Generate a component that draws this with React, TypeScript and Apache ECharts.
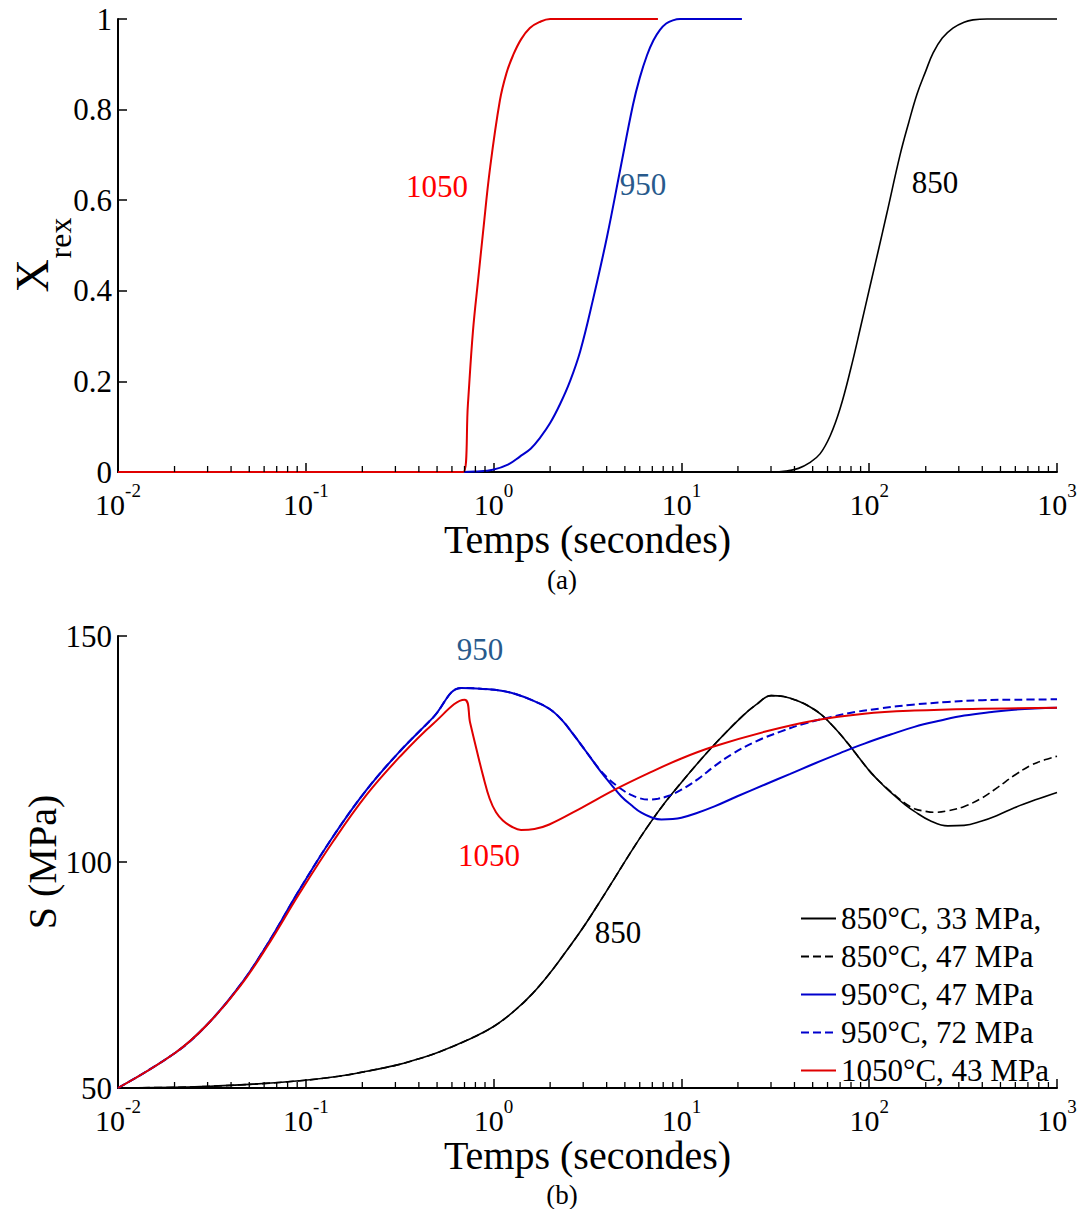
import React, { useEffect, useRef } from 'react';
import * as echarts from 'echarts';

const FONT = 'Liberation Serif';

// ---------- (a) Xrex vs time ----------
const xrexTime1050 = [0.01, 0.69, 0.73, 0.776, 0.83, 0.879, 0.957, 1.08, 1.17, 1.27, 1.4, 1.56, 1.75, 2.0, 7.5];
const xrex1050 = [0, 0, 0.15, 0.31, 0.43, 0.53, 0.67, 0.82, 0.88, 0.92, 0.955, 0.98, 0.993, 1, 1];

const xrexTime950 = [0.01, 0.69, 0.8, 0.99, 1.2, 1.38, 1.58, 1.77, 2.0, 2.26, 2.55, 2.89, 3.38, 4.02, 4.71, 5.52, 6.0, 6.56, 7.1, 7.69, 8.3, 9.0, 9.84, 21];
const xrex950 = [0, 0, 0.001, 0.005, 0.017, 0.034, 0.052, 0.076, 0.108, 0.15, 0.2, 0.266, 0.38, 0.52, 0.665, 0.81, 0.87, 0.92, 0.953, 0.976, 0.99, 0.997, 1, 1];

const xrexTime850 = [0.01, 30.4, 36, 42, 48, 54.7, 62, 70, 80, 90, 101, 112, 124, 146, 162, 180, 200, 219, 245, 279, 320, 357, 424, 1000];
const xrex850 = [0, 0, 0.002, 0.008, 0.02, 0.04, 0.08, 0.14, 0.23, 0.32, 0.41, 0.49, 0.57, 0.7, 0.77, 0.835, 0.885, 0.925, 0.958, 0.98, 0.993, 0.998, 1, 1];

// ---------- (b) S vs time ----------
const sTime850a = [0.01, 0.02, 0.0275, 0.05, 0.093, 0.15, 0.211, 0.3, 0.388, 0.5, 0.716, 1.0, 1.3, 1.62, 2.0, 2.43, 2.94, 3.6, 4.42, 5.4, 6.65, 8.2, 10, 12.3, 15, 20.8, 25, 30.1, 35, 41.8, 48, 55.6, 65, 77.1, 90, 103, 120, 137, 155, 174, 210, 262, 320, 394, 480, 593, 760, 1000];
const s850a = [50, 50.15, 50.3, 50.8, 51.6, 52.6, 53.7, 55.0, 56.3, 57.8, 60.5, 63.6, 67.2, 71.0, 75.5, 80.2, 85.0, 90.6, 96.5, 102.3, 108.0, 113.2, 117.6, 122.0, 126.0, 132.0, 134.8, 136.8, 136.6, 135.6, 134.4, 132.6, 129.8, 126.2, 122.6, 119.6, 116.8, 114.6, 112.7, 111.2, 109.2, 108.0, 108.1, 109.0, 110.3, 112.0, 113.7, 115.4];

const sTime850b = [0.01, 0.02, 0.0275, 0.05, 0.093, 0.15, 0.211, 0.3, 0.388, 0.5, 0.716, 1.0, 1.3, 1.62, 2.0, 2.43, 2.94, 3.6, 4.42, 5.4, 6.65, 8.2, 10, 12.3, 15, 20.8, 25, 30.1, 35, 41.8, 48, 55.6, 65, 77.1, 90, 103, 120, 137, 155, 174, 200, 223, 260, 321, 400, 483, 600, 727, 860, 1000];
const s850b = [50, 50.15, 50.3, 50.8, 51.6, 52.6, 53.7, 55.0, 56.3, 57.8, 60.5, 63.6, 67.2, 71.0, 75.5, 80.2, 85.0, 90.6, 96.5, 102.3, 108.0, 113.2, 117.6, 122.0, 126.0, 132.0, 134.8, 136.8, 136.6, 135.6, 134.4, 132.6, 129.8, 126.2, 122.6, 119.6, 116.9, 114.8, 113.0, 111.8, 111.2, 111.0, 111.3, 112.3, 114.2, 116.5, 119.3, 121.4, 122.6, 123.4];

const sTime950a = [0.01, 0.0202, 0.0298, 0.0448, 0.062, 0.093, 0.14, 0.211, 0.317, 0.477, 0.673, 0.877, 1.1, 1.32, 1.6, 1.98, 2.3, 2.64, 3.1, 3.66, 4.2, 4.79, 5.4, 6.12, 7.0, 7.83, 9.0, 10, 12, 15, 20, 27.7, 38, 51.2, 70, 94.4, 130, 174, 240, 321, 450, 593, 1000];
const s950a = [50, 57.8, 64.0, 72.8, 81.6, 94.0, 105.7, 116.0, 124.5, 132.0, 138.5, 138.3, 137.9, 137.1, 135.8, 133.9, 131.5, 128.4, 124.5, 120.4, 117.3, 114.5, 112.6, 110.9, 109.8, 109.4, 109.5, 109.8, 110.8, 112.3, 114.6, 117.1, 119.5, 121.8, 124.1, 126.2, 128.2, 129.9, 131.3, 132.4, 133.2, 133.7, 134.1];

const sTime950b = [0.01, 0.0202, 0.0298, 0.0448, 0.062, 0.093, 0.14, 0.211, 0.317, 0.477, 0.673, 0.877, 1.1, 1.32, 1.6, 1.98, 2.3, 2.64, 3.1, 3.66, 4.0, 4.42, 5.0, 5.42, 6.0, 6.65, 7.5, 8.5, 10, 12.3, 15, 18.5, 25, 34, 45, 62.8, 85, 116, 170, 262, 400, 593, 1000];
const s950b = [50, 57.8, 64.0, 72.8, 81.6, 94.0, 105.7, 116.0, 124.5, 132.0, 138.5, 138.3, 137.9, 137.1, 135.8, 133.9, 131.5, 128.4, 124.5, 120.5, 118.8, 117.2, 115.6, 114.8, 114.1, 113.8, 114.0, 114.6, 116.0, 118.4, 121.2, 123.8, 126.7, 128.9, 130.6, 132.1, 133.2, 134.0, 134.8, 135.4, 135.8, 135.9, 136.0];

const sTime1050 = [0.01, 0.0202, 0.0298, 0.0448, 0.062, 0.093, 0.14, 0.211, 0.317, 0.477, 0.70, 0.75, 0.81, 0.88, 0.953, 1.03, 1.12, 1.25, 1.40, 1.65, 1.98, 2.94, 4.42, 6.65, 10, 15, 27.7, 51.2, 94, 174, 394, 1000];
const s1050 = [50, 57.8, 64.0, 72.6, 81.2, 93.2, 104.6, 114.9, 123.3, 130.6, 135.9, 130.8, 125.0, 119.0, 114.0, 111.0, 109.2, 107.8, 107.1, 107.3, 108.3, 112.0, 116.0, 119.6, 122.9, 125.6, 128.8, 131.3, 132.8, 133.5, 133.9, 134.1];

const legendNames = ['850°C, 33 MPa,', '850°C, 47 MPa', '950°C, 47 MPa', '950°C, 72 MPa', '1050°C, 43 MPa'];

const xTicksDecades = [-2, -1, 0, 1, 2, 3];

const RED = '#e00000';
const BLUE = '#0000cd';
const LABEL_BLUE = '#285a8c';

function zip(t: number[], v: number[]) {
  return t.map((x, i) => [x, v[i]]);
}

const minorTicks: number[] = [];
for (let i = 0; i < xTicksDecades.length - 1; i++) {
  for (let m = 2; m < 10; m++) minorTicks.push(m * Math.pow(10, xTicksDecades[i]));
}

function makeXAxis(gridIndex: number) {
  return {
    type: 'log',
    logBase: 10,
    gridIndex,
    min: 0.01,
    max: 1000,
    axisLine: { show: true, onZero: false, lineStyle: { color: '#000', width: 2 } },
    axisTick: { show: true, inside: true, length: 9, lineStyle: { color: '#000', width: 1.5 } },
    splitLine: { show: false },
    minorTick: { show: false },
    axisLabel: {
      margin: 9,
      color: '#000',
      fontFamily: FONT,
      formatter: (v: number) => `{b|10}{s|${Math.round(Math.log10(v))}}`,
      rich: {
        b: { fontFamily: FONT, fontSize: 30, color: '#000', lineHeight: 38, verticalAlign: 'bottom' },
        s: { fontFamily: FONT, fontSize: 19, color: '#000', lineHeight: 20, verticalAlign: 'top' },
      },
    },
    name: 'Temps (secondes)',
    nameLocation: 'middle',
    nameGap: 41,
    nameTextStyle: { fontFamily: FONT, fontSize: 40, color: '#000' },
  };
}

function makeYAxis(gridIndex: number, min: number, max: number, interval: number) {
  return {
    type: 'value',
    gridIndex,
    min,
    max,
    interval,
    axisLine: { show: true, onZero: false, lineStyle: { color: '#000', width: 2 } },
    axisTick: { show: true, inside: true, length: 9, lineStyle: { color: '#000', width: 1.5 } },
    splitLine: { show: false },
    axisLabel: {
      margin: 6,
      color: '#000',
      fontFamily: FONT,
      fontSize: 31,
      lineHeight: 18,
      formatter: (v: number) => String(parseFloat(v.toFixed(2))),
    },
  };
}

function minorTickSeries(xi: number, yBase: number) {
  return {
    type: 'custom',
    xAxisIndex: xi,
    yAxisIndex: xi,
    silent: true,
    clip: false,
    z: 5,
    data: minorTicks.map((v) => [v, yBase]),
    encode: { x: 0, y: 1 },
    renderItem: (_p: any, api: any) => {
      const pt = api.coord([api.value(0), api.value(1)]);
      return {
        type: 'line',
        shape: { x1: pt[0], y1: pt[1], x2: pt[0], y2: pt[1] - 6 },
        style: { stroke: '#000', lineWidth: 1.3 },
      };
    },
  };
}

function textMark(coord: number[], text: string, color: string) {
  return {
    symbol: 'circle',
    symbolSize: 1,
    silent: true,
    itemStyle: { color: 'rgba(0,0,0,0)' },
    label: { show: true, position: 'inside', formatter: text, color, fontFamily: FONT, fontSize: 31 },
    data: [{ coord }],
  };
}

function line(name: string, data: number[][], idx: number, color: string, width: number, dashed: boolean, mark?: any) {
  const s: any = {
    type: 'line',
    name,
    xAxisIndex: idx,
    yAxisIndex: idx,
    data,
    showSymbol: false,
    symbol: 'none',
    smooth: 0.4,
    clip: false,
    lineStyle: { color, width, type: dashed ? [8, 4] : 'solid' },
    itemStyle: { color },
  };
  if (mark) s.markPoint = mark;
  return s;
}

export default function App() {
  const ref = useRef<HTMLDivElement>(null);
  useEffect(() => {
    document.body.style.margin = '0';
    const chart = echarts.init(ref.current!, null, { renderer: 'svg' });
    const option: any = {
      animation: false,
      backgroundColor: '#fff',
      textStyle: { fontFamily: FONT },
      grid: [
        { left: 118, top: 19, width: 939, height: 453, containLabel: false },
        { left: 118, top: 636, width: 939, height: 452, containLabel: false },
      ],
      xAxis: [makeXAxis(0), makeXAxis(1)],
      yAxis: [makeYAxis(0, 0, 1, 0.2), makeYAxis(1, 50, 150, 50)],
      legend: {
        data: legendNames,
        orient: 'vertical',
        left: 795,
        top: 898,
        itemWidth: 35,
        itemHeight: 14,
        itemGap: 7,
        selectedMode: false,
        itemStyle: { opacity: 0 },
        textStyle: { fontFamily: FONT, fontSize: 31, color: '#000', lineHeight: 31 },
      },
      graphic: [
        {
          type: 'text', x: 32, y: 276, rotation: Math.PI / 2, silent: true,
          style: { text: 'X', fontFamily: FONT, fontSize: 46, fill: '#000', align: 'center', verticalAlign: 'middle' },
        },
        {
          type: 'text', x: 60, y: 238, rotation: Math.PI / 2, silent: true,
          style: { text: 'rex', fontFamily: FONT, fontSize: 32, fill: '#000', align: 'center', verticalAlign: 'middle' },
        },
        {
          type: 'text', x: 42, y: 862, rotation: Math.PI / 2, silent: true,
          style: { text: 'S (MPa)', fontFamily: FONT, fontSize: 40, fill: '#000', align: 'center', verticalAlign: 'middle' },
        },
        {
          type: 'text', x: 562, y: 580, silent: true,
          style: { text: '(a)', fontFamily: FONT, fontSize: 27, fill: '#000', align: 'center', verticalAlign: 'middle' },
        },
        {
          type: 'text', x: 562, y: 1195, silent: true,
          style: { text: '(b)', fontFamily: FONT, fontSize: 27, fill: '#000', align: 'center', verticalAlign: 'middle' },
        },
      ],
      series: [
        line('Xrex 850', zip(xrexTime850, xrex850), 0, '#000', 1.6, false, textMark([224, 0.64], '850', '#000')),
        line('Xrex 950', zip(xrexTime950, xrex950), 0, BLUE, 2, false, textMark([6.24, 0.634], '950', LABEL_BLUE)),
        line('Xrex 1050', zip(xrexTime1050, xrex1050), 0, RED, 2, false, textMark([0.5, 0.63], '1050', '#ff0000')),
        minorTickSeries(0, 0),
        line(legendNames[0], zip(sTime850a, s850a), 1, '#000', 1.6, false, textMark([4.59, 84.5], '850', '#000')),
        line(legendNames[1], zip(sTime850b, s850b), 1, '#000', 1.6, true),
        line(legendNames[2], zip(sTime950a, s950a), 1, BLUE, 2, false, textMark([0.847, 147.1], '950', LABEL_BLUE)),
        line(legendNames[3], zip(sTime950b, s950b), 1, BLUE, 2, true),
        line(legendNames[4], zip(sTime1050, s1050), 1, RED, 2, false, textMark([0.944, 101.5], '1050', '#ff0000')),
        minorTickSeries(1, 50),
      ],
    };
    chart.setOption(option);
    return () => chart.dispose();
  }, []);
  return <div ref={ref} style={{ width: 1081, height: 1209 }} />;
}
